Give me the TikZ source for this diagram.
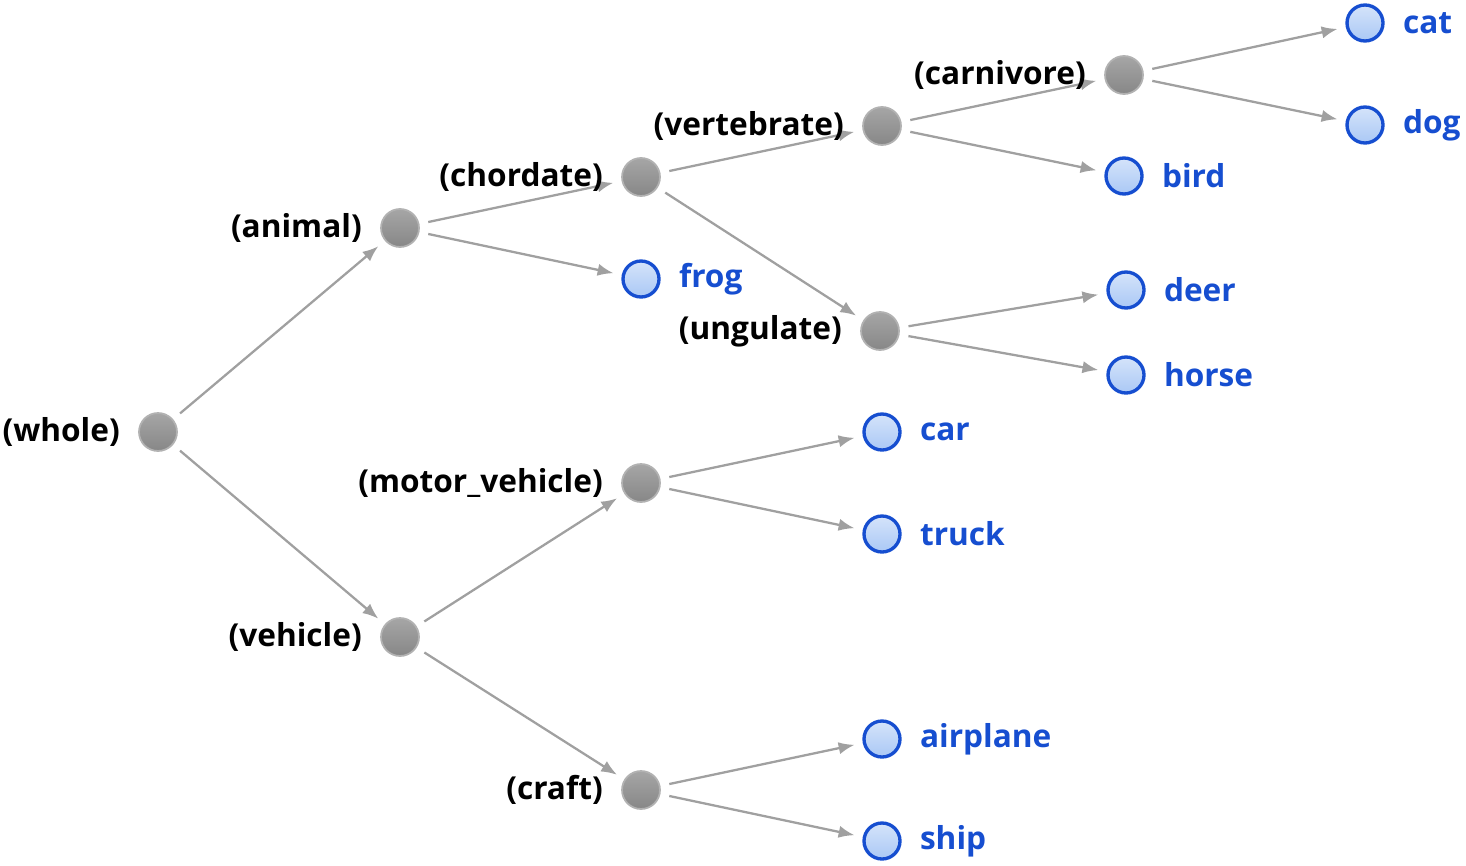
\documentclass[tikz,border=0pt]{standalone}
\usepackage{fontspec}
\setmainfont{Open Sans}
\usepackage{xcolor}
\usepackage{tikz}
\usetikzlibrary{arrows.meta,backgrounds}

\definecolor{inngray}{RGB}{150,150,150}
\definecolor{innedge}{RGB}{178,178,178}
\definecolor{leafblue}{RGB}{22,78,208}
\definecolor{leaffill}{RGB}{170,200,245}
\definecolor{arrgray}{RGB}{160,160,160}

\begin{document}
\begin{tikzpicture}[x=0.02cm, y=-0.02cm,
  inner/.style={circle, minimum size=0.76cm, inner sep=0pt, draw=innedge, line width=1pt,
    top color=inngray!85!white, bottom color=inngray!90!black,
    label={[lbl, label distance=0.36cm]left:#1}},
  leaf/.style={circle, minimum size=0.72cm, inner sep=0pt, draw=leafblue, line width=1.9pt,
    top color=leaffill!50!white, bottom color=leaffill,
    label={[lbl, text=leafblue, label distance=0.36cm]right:#1}},
  lbl/.style={inner sep=0pt, font=\fontsize{18}{22}\selectfont\bfseries},
  arr/.style={-{Latex[length=9pt, width=7pt]}, draw=arrgray, line width=1.3pt,
    shorten <=0.18cm, shorten >=0.17cm}
]
\useasboundingbox (0,0) rectangle (1466,865);

% inner nodes
\node[inner={(whole)}] (whole) at (158,432) {};
\node[inner={(animal)}] (animal) at (400,228) {};
\node[inner={(vehicle)}] (vehicle) at (400,637) {};
\node[inner={(chordate)}] (chordate) at (641,177) {};
\node[inner={(motor\_vehicle)}] (motor) at (641,483) {};
\node[inner={(craft)}] (craft) at (641,790) {};
\node[inner={(vertebrate)}] (vertebrate) at (882,126) {};
\node[inner={(ungulate)}] (ungulate) at (880,331) {};
\node[inner={(carnivore)}] (carnivore) at (1124,75) {};

% leaves
\node[leaf={frog}] (frog) at (641,279) {};
\node[leaf={car}] (car) at (882,432) {};
\node[leaf={truck}] (truck) at (882,534) {};
\node[leaf={airplane}] (airplane) at (882,739) {};
\node[leaf={ship}] (ship) at (882,841) {};
\node[leaf={bird}] (bird) at (1124,176) {};
\node[leaf={deer}] (deer) at (1126,290) {};
\node[leaf={horse}] (horse) at (1126,375) {};
\node[leaf={cat}] (cat) at (1365,23) {};
\node[leaf={dog}] (dog) at (1365,125) {};

% edges
\begin{scope}[on background layer]
\draw[arr] (whole) -- (animal);
\draw[arr] (whole) -- (vehicle);
\draw[arr] (animal) -- (chordate);
\draw[arr] (animal) -- (frog);
\draw[arr] (chordate) -- (vertebrate);
\draw[arr] (chordate) -- (ungulate);
\draw[arr] (vertebrate) -- (carnivore);
\draw[arr] (vertebrate) -- (bird);
\draw[arr] (carnivore) -- (cat);
\draw[arr] (carnivore) -- (dog);
\draw[arr] (ungulate) -- (deer);
\draw[arr] (ungulate) -- (horse);
\draw[arr] (vehicle) -- (motor);
\draw[arr] (vehicle) -- (craft);
\draw[arr] (motor) -- (car);
\draw[arr] (motor) -- (truck);
\draw[arr] (craft) -- (airplane);
\draw[arr] (craft) -- (ship);
\end{scope}
\end{tikzpicture}
\end{document}
